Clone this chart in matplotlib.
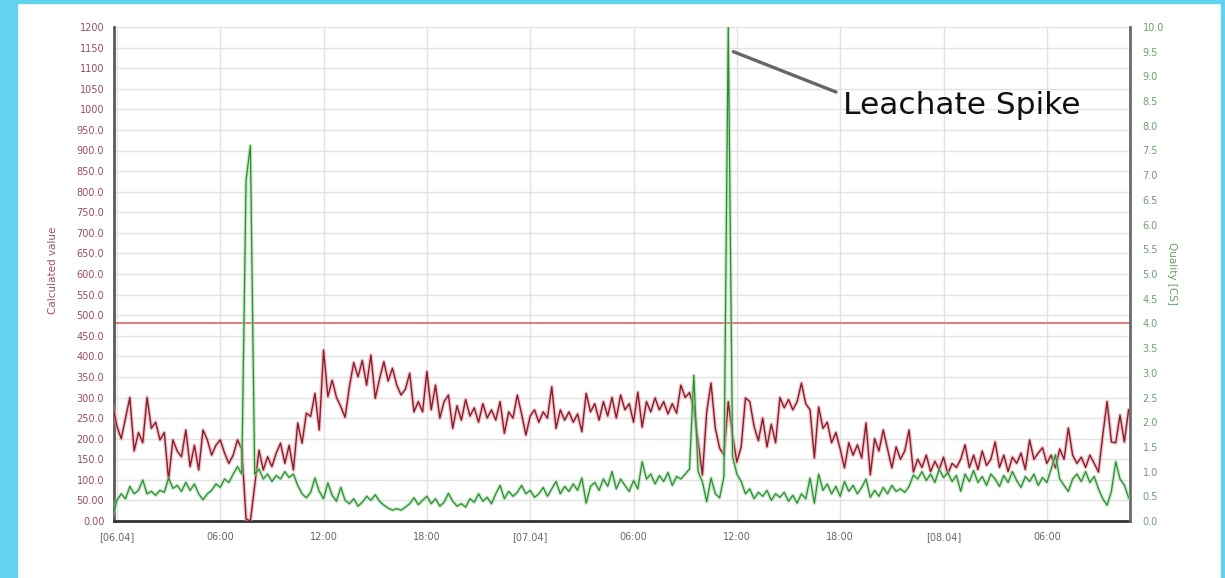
import numpy as np
import matplotlib
matplotlib.use("Agg")
import matplotlib.pyplot as plt
from matplotlib.patches import Rectangle

# Sampling: one reading every 15 minutes, first reading 15 min before midnight 06.04
sample_step_h = 0.25
start_h = -0.25

# Calculated value (left axis), one row per hour
calculated = [
    280,
    230, 200, 250, 300,   170, 215, 190, 300,   225, 240, 197, 215,
    100, 197, 170, 156,   221, 132, 184, 124,   221, 197, 160, 184,
    197, 165, 140, 160,   197, 175, 5, 0,       85, 172, 124, 156,
    132, 165, 189, 140,   184, 124, 238, 189,   262, 254, 310, 221,
    415, 302, 342, 300,   278, 252, 326, 385,   350, 390, 330, 403,
    298, 345, 387, 340,   371, 330, 306, 320,   359, 265, 290, 265,
    363, 270, 330, 250,   290, 306, 225, 280,   245, 295, 255, 275,
    240, 285, 250, 270,   245, 290, 213, 265,   250, 306, 260, 209,
    255, 270, 240, 265,   250, 326, 225, 270,   245, 265, 240, 260,
    217, 310, 265, 285,   245, 290, 255, 300,   250, 306, 270, 285,
    240, 313, 228, 290,   265, 299, 270, 290,   260, 285, 262, 330,
    300, 312, 274, 193,   112, 265, 335, 225,   177, 160, 290, 209,
    143, 180, 299, 290,   230, 195, 250, 180,   235, 190, 300, 275,
    295, 270, 290, 335,   285, 270, 153, 277,   225, 240, 190, 215,
    175, 129, 190, 160,   185, 153, 238, 112,   200, 170, 221, 175,
    129, 180, 150, 170,   221, 119, 150, 130,   160, 120, 145, 125,
    155, 115, 140, 130,   150, 185, 130, 160,   125, 170, 135, 150,
    192, 130, 160, 120,   155, 140, 165, 125,   197, 150, 165, 178,
    140, 160, 129, 175,   150, 226, 160, 140,   155, 130, 160, 140,
    119, 209, 290, 192,   190, 257, 192, 270,
]

# Quality reading (right axis), same timestamps
quality = [
    0.10,
    0.42, 0.55, 0.45, 0.70,   0.55, 0.62, 0.83, 0.55,   0.60, 0.52, 0.62, 0.58,
    0.87, 0.66, 0.72, 0.60,   0.78, 0.62, 0.75, 0.55,   0.43, 0.55, 0.62, 0.75,
    0.68, 0.85, 0.78, 0.95,   1.10, 0.95, 6.90, 7.60,   0.95, 1.05, 0.85, 0.95,
    0.80, 0.92, 0.85, 1.00,   0.88, 0.95, 0.72, 0.55,   0.47, 0.58, 0.87, 0.60,
    0.45, 0.77, 0.52, 0.40,   0.68, 0.42, 0.35, 0.45,   0.30, 0.38, 0.50, 0.42,
    0.53, 0.40, 0.32, 0.26,   0.22, 0.25, 0.22, 0.28,   0.35, 0.47, 0.33, 0.42,
    0.50, 0.35, 0.45, 0.30,   0.38, 0.56, 0.40, 0.30,   0.35, 0.28, 0.45, 0.38,
    0.55, 0.40, 0.48, 0.35,   0.55, 0.72, 0.45, 0.60,   0.50, 0.58, 0.72, 0.55,
    0.62, 0.48, 0.55, 0.68,   0.50, 0.65, 0.80, 0.55,   0.70, 0.60, 0.75, 0.62,
    0.87, 0.36, 0.70, 0.78,   0.62, 0.85, 0.70, 1.00,   0.65, 0.85, 0.72, 0.60,
    0.82, 0.65, 1.20, 0.85,   0.95, 0.75, 0.92, 0.80,   0.98, 0.72, 0.90, 0.85,
    0.95, 1.05, 2.95, 1.00,   0.79, 0.39, 0.87, 0.55,   0.47, 0.90, 10.0, 1.30,
    0.95, 0.80, 0.55, 0.65,   0.45, 0.58, 0.50, 0.62,   0.42, 0.55, 0.48, 0.58,
    0.40, 0.52, 0.36, 0.55,   0.45, 0.87, 0.36, 0.95,   0.62, 0.75, 0.55, 0.70,
    0.50, 0.80, 0.60, 0.72,   0.55, 0.68, 0.85, 0.48,   0.62, 0.50, 0.68, 0.55,
    0.72, 0.60, 0.65, 0.58,   0.70, 0.93, 0.85, 1.00,   0.82, 0.95, 0.78, 1.05,
    0.88, 0.98, 0.80, 0.92,   0.60, 0.95, 0.80, 1.02,   0.78, 0.90, 0.72, 0.95,
    0.85, 0.70, 0.92, 0.78,   1.00, 0.82, 0.68, 0.90,   0.80, 0.95, 0.72, 0.88,
    0.78, 1.05, 1.34, 0.85,   0.72, 0.60, 0.85, 0.95,   0.80, 1.00, 0.78, 0.90,
    0.65, 0.45, 0.32, 0.60,   1.20, 0.85, 0.73, 0.47,
]

threshold_quality = 4.0

x_tick_hours = [0, 6, 12, 18, 24, 30, 36, 42, 48, 54]
x_tick_labels = ["[06.04]", "06:00", "12:00", "18:00", "[07.04]",
                 "06:00", "12:00", "18:00", "[08.04]", "06:00"]
left_ticks = list(range(0, 1201, 50))
left_tick_labels = ["0.00", "50.00"] + [f"{v:.1f}" for v in range(100, 1000, 50)] + \
                   ["1000", "1050", "1100", "1150", "1200"]
right_ticks = [i * 0.5 for i in range(21)]
right_tick_labels = [f"{v:.1f}" for v in right_ticks]

hours = start_h + sample_step_h * np.arange(len(calculated))

W, H = 1225, 578
fig = plt.figure(figsize=(W / 100, H / 100), dpi=100, facecolor="white")

# slide frame
frame = "#62d3ee"
fig.patches.append(Rectangle((0, 0), 17 / W, 1, transform=fig.transFigure, color=frame, zorder=0))
fig.patches.append(Rectangle((0, 1 - 3 / H), 1, 3 / H, transform=fig.transFigure, color=frame, zorder=0))
fig.patches.append(Rectangle((1221 / W, 0), 4 / W, 1, transform=fig.transFigure, color=frame, zorder=0))

ax = fig.add_axes([114 / W, 1 - 521 / H, (1130 - 114) / W, (521 - 27) / H])
ax.set_facecolor("white")
ax.set_xlim(-0.17, 58.83)
ax.set_ylim(0, 1200)

ax.set_yticks(left_ticks)
ax.set_yticklabels(left_tick_labels)
ax.set_xticks(x_tick_hours)
ax.set_xticklabels(x_tick_labels)
ax.tick_params(axis="y", labelsize=7, labelcolor="#9a4d5a", length=0, pad=7)
ax.tick_params(axis="x", labelsize=7, labelcolor="#666666", length=0, pad=8)
ax.grid(True, color="#e2e2e2", lw=1.0)
ax.set_axisbelow(True)

ax.spines["top"].set_visible(False)
ax.spines["left"].set_color("#5a5a5a")
ax.spines["left"].set_linewidth(2)
ax.spines["bottom"].set_color("#333333")
ax.spines["bottom"].set_linewidth(2)
ax.spines["right"].set_visible(False)

ax.axhline(threshold_quality * 120, color="#e07070", lw=1.3, zorder=2)

ax.plot(hours, calculated, color="#e7a0aa", lw=2.8, alpha=0.6, zorder=3)
ax.plot(hours, calculated, color="#8a1c2a", lw=1.0, zorder=4)

ax.set_ylabel("Calculated value", fontsize=7.5, color="#a0505c")
ax.yaxis.set_label_coords(-0.055, 0.508)

ax2 = ax.twinx()
ax2.set_ylim(0, 10)
ax2.set_yticks(right_ticks)
ax2.set_yticklabels(right_tick_labels)
ax2.tick_params(axis="y", labelsize=7, labelcolor="#6aa06a", length=0, pad=9)
for s in ["top", "left", "bottom"]:
    ax2.spines[s].set_visible(False)
ax2.spines["right"].set_color("#6a6a6a")
ax2.spines["right"].set_linewidth(2)

ax2.plot(hours, quality, color="#9fdc9f", lw=2.6, alpha=0.6, zorder=3)
ax2.plot(hours, quality, color="#2f8a35", lw=0.9, zorder=4)

ax2.set_ylabel("Quality [CS]", fontsize=7.5, color="#6aa06a", rotation=270)
ax2.yaxis.set_label_coords(1.046, 0.5)

# call-out pointing at the largest quality spike
i_peak = int(np.argmax(quality))
ax2.annotate("", xy=(hours[i_peak] + 0.3, 9.5), xytext=(836, H - 92),
             textcoords="figure pixels",
             arrowprops=dict(arrowstyle="-", color="#666666", lw=2.4,
                             shrinkA=0, shrinkB=0))
fig.text(843 / W, 1 - 106 / H, "Leachate Spike", fontsize=22.5, color="#111111",
         ha="left", va="center")

fig.savefig("out.png", dpi=100, facecolor=fig.get_facecolor())
